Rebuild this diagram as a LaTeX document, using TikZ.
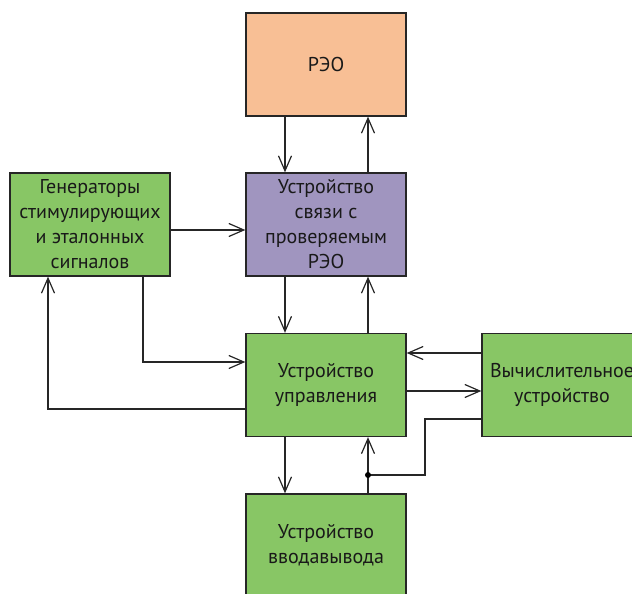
\documentclass[tikz,border=0pt]{standalone}
\usepackage{fontspec}
\setmainfont{PT Sans}
\usetikzlibrary{arrows.meta}
\definecolor{cOr}{RGB}{248,191,149}
\definecolor{cPu}{RGB}{160,149,191}
\definecolor{cGr}{RGB}{136,198,101}
\begin{document}
\begin{tikzpicture}[x=1pt,y=-1pt,
  blk/.style={draw=black!85, line width=1.3pt, minimum width=160pt, minimum height=103pt,
    inner sep=0pt, align=center, font=\fontsize{20}{25}\selectfont, text=black!90},
  arr/.style={draw=black!85, line width=1.2pt, -{Straight Barb[length=15pt,width=13pt,line width=1.2pt]}},
  ln/.style={draw=black!85, line width=1.2pt}]
\useasboundingbox (0,0) rectangle (632,594);
\clip (0,0) rectangle (632,594);
\node[blk, fill=cOr] (rao) at (326,64.5) {РЭО};
\node[blk, fill=cPu] (svy) at (326,224.5) {Устройство\\связи с\\проверяемым\\РЭО};
\node[blk, fill=cGr] (gen) at (90,224.5) {Генераторы\\стимулирующих\\и эталонных\\сигналов};
\node[blk, fill=cGr] (upr) at (326,385) {Устройство\\управления};
\node[blk, fill=cGr] (vyc) at (562,385) {Вычислительное\\устройство};
\node[blk, fill=cGr] (vvd) at (326,545.5) {Устройство\\вводавывода};
\coordinate (j) at (368,475);
\coordinate (bend) at (425,475);
\draw[arr] ([xshift=-41pt]rao.south) -- ([xshift=-41pt]svy.north);
\draw[arr] ([xshift=42pt]svy.north) -- ([xshift=42pt]rao.south);
\draw[arr] ([xshift=-41pt]svy.south) -- ([xshift=-41pt]upr.north);
\draw[arr] ([xshift=42pt]upr.north) -- ([xshift=42pt]svy.south);
\draw[arr] ([yshift=-5.5pt]gen.east) -- ([yshift=-5.5pt]svy.west);
\draw[arr] ([xshift=53pt]gen.south) |- ([yshift=23pt]upr.west);
\draw[arr] ([yshift=-24pt]upr.west) -| ([xshift=-42pt]gen.south);
\draw[arr] ([yshift=32pt]vyc.west) -- ([yshift=32pt]upr.east);
\draw[arr] ([yshift=-6pt]upr.east) -- ([yshift=-6pt]vyc.west);
\draw[ln] ([yshift=-34pt]vyc.west) -| (bend) -- (j);
\draw[arr] ([xshift=42pt]vvd.north) -- ([xshift=42pt]upr.south);
\draw[arr] ([xshift=-41pt]upr.south) -- ([xshift=-41pt]vvd.north);
\fill[black] (j) circle (3pt);
\end{tikzpicture}
\end{document}
